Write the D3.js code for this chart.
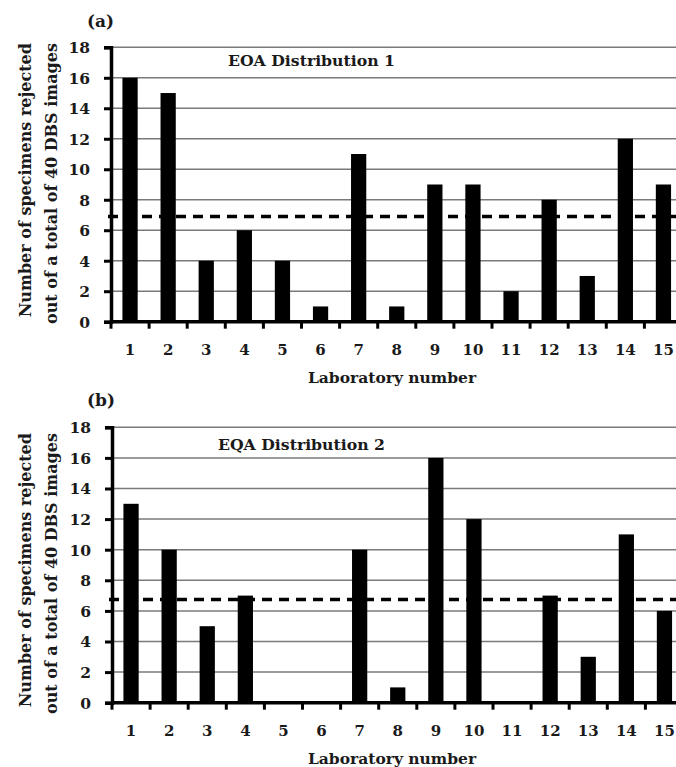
<!DOCTYPE html>
<html>
<head>
<meta charset="utf-8">
<script src="https://cdn.jsdelivr.net/npm/d3@7"></script>
<style>
  body { margin: 0; background: #fff; }
  svg { display: block; }
</style>
</head>
<body>
<div class="render"></div>
<script>
// laboratories 1..15
var labs = d3.range(1, 16);
var dist1 = [16, 15, 4, 6, 4, 1, 11, 1, 9, 9, 2, 8, 3, 12, 9];
var dist2 = [13, 10, 5, 7, 0, 0, 10, 1, 16, 12, 0, 7, 3, 11, 6];
var yTicks = [0, 2, 4, 6, 8, 10, 12, 14, 16, 18];
// dashed reference line (mean)
var mean1 = 6.9;
var mean2 = 6.75;

var yLabel = ["Number of specimens rejected", "out of a total of 40 DBS images"];
var xLabel = "Laboratory number";

var W = 676, H = 767;
var FONT = "'DejaVu Serif', 'Liberation Serif', 'Times New Roman', serif";

// panel layout, pixel positions
var panels = [
  { tag: "(a)", title: "EOA Distribution 1", values: dist1, mean: mean1,
    left: 111, top: 47.3, bottom: 321.7, titleX: 228, titleY: 66, tagY: 27, labelTop: 43 },
  { tag: "(b)", title: "EQA Distribution 2", values: dist2, mean: mean2,
    left: 112, top: 427.3, bottom: 702.7, titleX: 218, titleY: 450, tagY: 406, labelTop: 433 }
];
var step = 38.1;

var svg = d3.select(".render").append("svg")
    .attr("width", W)
    .attr("height", H)
    .attr("font-family", FONT)
    .attr("font-weight", "bold");

panels.forEach(function(p) {
    var g = svg.append("g");

    var x = d3.scaleBand()
        .domain(labs)
        .range([p.left, p.left + step * labs.length])
        .paddingInner(0.6)
        .paddingOuter(0.3);

    var y = d3.scaleLinear()
        .domain([0, 18])
        .range([p.bottom, p.top]);

    // gridlines
    g.selectAll(".grid").data(yTicks.filter(function(d) { return d > 0; }))
      .enter().append("line")
        .attr("x1", p.left)
        .attr("x2", W + 10)
        .attr("y1", function(d) { return y(d); })
        .attr("y2", function(d) { return y(d); })
        .attr("stroke", "#7a7a7a")
        .attr("stroke-width", 1.5);

    // dashed line
    g.append("line")
        .attr("x1", p.left - 3)
        .attr("x2", W + 10)
        .attr("y1", y(p.mean))
        .attr("y2", y(p.mean))
        .attr("stroke", "#000")
        .attr("stroke-width", 3.5)
        .attr("stroke-dasharray", "10,7");

    // bars
    g.selectAll(".bar").data(p.values)
      .enter().append("rect")
        .attr("x", function(d, i) { return x(labs[i]); })
        .attr("y", function(d) { return y(d); })
        .attr("width", x.bandwidth())
        .attr("height", function(d) { return y(0) - y(d); })
        .attr("fill", "#000");

    // y axis
    var yAxis = g.append("g")
        .attr("transform", "translate(" + p.left + ",0)")
        .call(d3.axisLeft(y).tickValues(yTicks).tickSize(7).tickPadding(14));
    yAxis.attr("font-family", FONT).attr("font-size", 15.5);
    yAxis.select(".domain").attr("stroke-width", 3.5).attr("stroke", "#000");
    yAxis.selectAll(".tick line").attr("stroke-width", 3).attr("stroke", "#000");
    yAxis.selectAll(".tick text")
        .attr("fill", "#1a1a1a")
        .attr("dy", "0.35em");

    // x axis line and ticks between categories
    g.append("line")
        .attr("x1", p.left)
        .attr("x2", W + 10)
        .attr("y1", y(0))
        .attr("y2", y(0))
        .attr("stroke", "#000")
        .attr("stroke-width", 3.5);

    g.selectAll(".xtick").data(labs)
      .enter().append("line")
        .attr("x1", function(d) { return x(d) - x.step() * 0.3; })
        .attr("x2", function(d) { return x(d) - x.step() * 0.3; })
        .attr("y1", y(0))
        .attr("y2", y(0) + 7)
        .attr("stroke", "#000")
        .attr("stroke-width", 3);

    g.selectAll(".xlab").data(labs)
      .enter().append("text")
        .attr("x", function(d) { return x(d) + x.bandwidth() / 2; })
        .attr("y", y(0) + 33)
        .attr("text-anchor", "middle")
        .attr("font-size", 15)
        .attr("fill", "#1a1a1a")
        .text(function(d) { return d; });

    g.append("text")
        .attr("x", 392)
        .attr("y", y(0) + 61)
        .attr("text-anchor", "middle")
        .attr("font-size", 15.5)
        .attr("fill", "#1a1a1a")
        .text(xLabel);

    // y label, two lines
    g.selectAll(".ylab").data(yLabel)
      .enter().append("text")
        .attr("transform", function(d, i) {
            return "translate(" + (31 + i * 26) + "," + p.labelTop + ") rotate(-90)";
        })
        .attr("text-anchor", "end")
        .attr("font-size", 16)
        .attr("fill", "#1a1a1a")
        .text(function(d) { return d; });

    g.append("text")
        .attr("x", p.titleX)
        .attr("y", p.titleY)
        .attr("font-size", 15.7)
        .attr("fill", "#1a1a1a")
        .text(p.title);

    g.append("text")
        .attr("x", 87)
        .attr("y", p.tagY)
        .attr("font-size", 17)
        .attr("fill", "#1a1a1a")
        .text(p.tag);
});
</script>
</body>
</html>
